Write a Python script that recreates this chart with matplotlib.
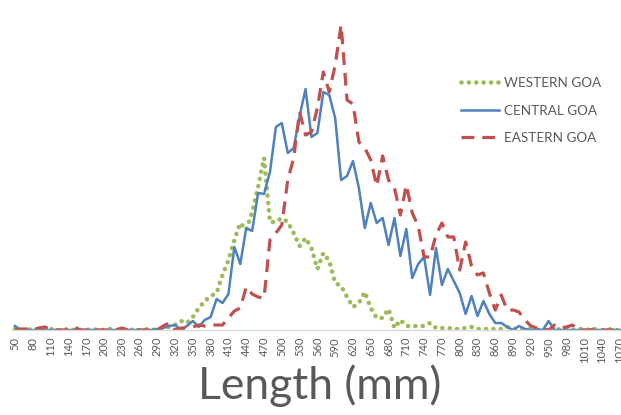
import numpy as np
import matplotlib
matplotlib.use("Agg")
import matplotlib.pyplot as plt

# length classes (mm), one value per 10 mm bin
length_mm = list(range(50, 1080, 10))

# frequencies (arbitrary units)
western = [1, 0, 0, 1, 0, 0, 1, 0, 0, 1, 0, 0, 0, 1, 0, 0, 1, 0, 0, 1,
           0, 0, 1, 0, 1, 2, 3, 5, 9, 7, 13, 22, 29, 34, 37, 55, 70, 90, 107, 100,
           118, 143, 172, 108, 108, 112, 108, 97, 84, 92, 82, 61, 77, 69, 47, 44, 33, 23, 27, 38,
           22, 12, 12, 21, 2, 10, 4, 4, 4, 4, 7, 2, 2, 2, 1, 1, 2, 3, 1, 1,
           1, 1, 1, 3, 1, 1, 0, 1, 1, 0, 1, 0, 1, 1, 0, 1, 1, 0, 1, 0,
           1, 0, 0]
central = [4, 0, 0, 0, 0, 0, 0, 0, 0, 0, 0, 0, 0, 0, 0, 0, 0, 0, 0, 0,
           0, 0, 0, 0, 1, 2, 4, 5, 0, 4, 9, 3, 10, 13, 31, 27, 36, 83, 66, 102,
           99, 137, 136, 158, 203, 207, 177, 182, 214, 241, 193, 197, 238, 235, 212, 150, 154, 169, 142, 102,
           127, 107, 112, 85, 112, 74, 101, 52, 66, 73, 35, 82, 45, 61, 49, 37, 16, 34, 14, 29,
           16, 7, 7, 3, 0, 4, 1, 0, 1, 0, 9, 0, 0, 0, 0, 0, 0, 0, 0, 0,
           0, 0, 0]
eastern = [0, 1, 1, 0, 2, 3, 1, 0, 0, 0, 3, 0, 0, 0, 0, 0, 0, 0, 2, 0,
           0, 0, 0, 0, 0, 4, 7, 0, 2, 2, 3, 5, 4, 5, 5, 5, 12, 19, 22, 43,
           36, 33, 32, 90, 97, 105, 150, 172, 218, 195, 198, 222, 258, 238, 265, 305, 230, 226, 188, 182,
           170, 144, 174, 150, 142, 115, 145, 117, 104, 73, 73, 95, 107, 93, 93, 60, 88, 64, 55, 57,
           37, 20, 35, 20, 20, 18, 10, 4, 2, 1, 0, 5, 2, 3, 5, 0, 0, 0, 2, 0,
           0, 0, 0]
series_names = ["WESTERN GOA", "CENTRAL GOA", "EASTERN GOA"]
tick_values = list(range(50, 1080, 30))

plt.rcParams['font.family'] = ['Lato', 'DejaVu Sans']

fig = plt.figure(figsize=(6.21, 4.15), dpi=100)
ax = fig.add_axes([12 / 621, 1 - 330 / 415, 1 - 12 / 621, 320 / 415])

ax.plot(length_mm, western, color='#9BBB59', lw=3.3,
        linestyle=(0, (0.01, 1.6)), dash_capstyle='round', label=series_names[0])
ax.plot(length_mm, central, color='#4F81BD', lw=1.8, label=series_names[1])
ax.plot(length_mm, eastern, color='#C0504D', lw=2.3,
        linestyle=(0, (4, 2.5)), label=series_names[2])

ax.set_xlim(45, 1072)
ax.set_ylim(0, 320)
ax.set_xticks(tick_values)
ax.set_xticklabels([str(v) for v in tick_values], rotation=90, fontsize=8, color='#595959')
ax.tick_params(axis='x', length=0, pad=5)
ax.set_yticks([])
for side in ['top', 'right', 'left']:
    ax.spines[side].set_visible(False)
ax.spines['bottom'].set_color('#D9D9D9')
ax.spines['bottom'].set_linewidth(1)

leg = ax.legend(loc='upper left', bbox_to_anchor=(449 / 621, 1 - 65 / 415),
                bbox_transform=fig.transFigure, frameon=False, fontsize=9.7,
                handlelength=2.8, handletextpad=0.4, labelspacing=1.15)
for t in leg.get_texts():
    t.set_color('#595959')

fig.text(320 / 621, 1 - 386 / 415, "Length (mm)", fontsize=32, color='#595959',
         ha='center', va='center')

fig.savefig("out.png", dpi=100)
